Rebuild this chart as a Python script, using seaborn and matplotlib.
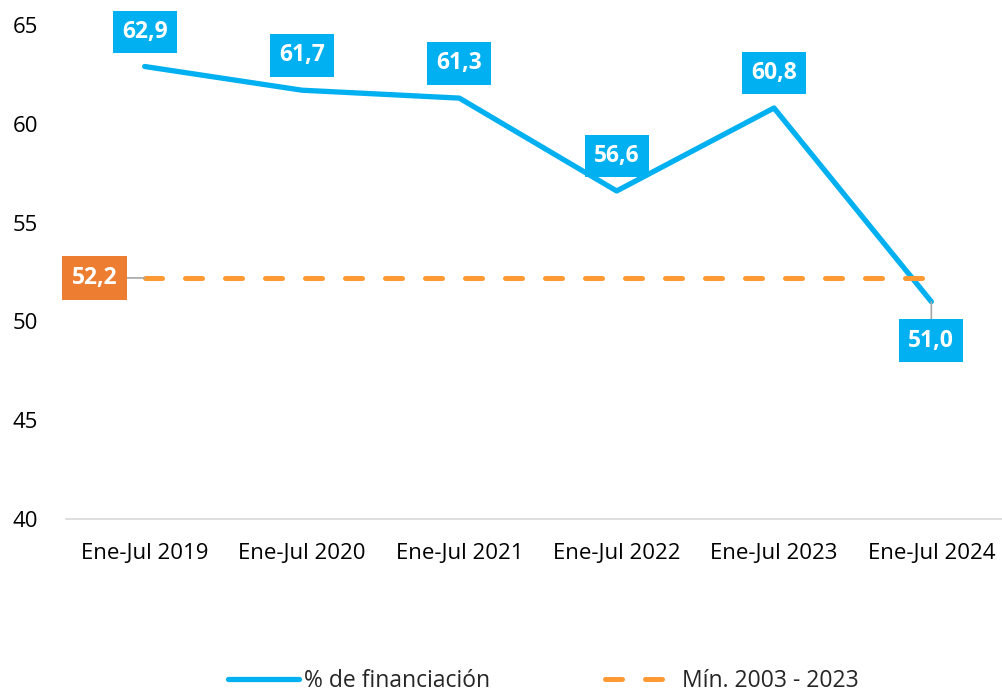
import matplotlib
matplotlib.use("Agg")
import matplotlib.pyplot as plt
import pandas as pd
import seaborn as sns

periodos = ["Ene-Jul 2019", "Ene-Jul 2020", "Ene-Jul 2021",
            "Ene-Jul 2022", "Ene-Jul 2023", "Ene-Jul 2024"]
financiacion = [62.9, 61.7, 61.3, 56.6, 60.8, 51.0]
minimo = 52.2

azul = "#00B0F0"
naranja = "#FF9933"
naranja_caja = "#ED7D31"

sns.set_theme(style="white")
plt.rcParams["font.family"] = ["Open Sans", "DejaVu Sans"]

df = pd.DataFrame({"pos": range(len(periodos)), "periodo": periodos,
                   "fin": financiacion, "min": [minimo] * len(periodos)})

fig = plt.figure(figsize=(10.02, 6.92), dpi=100)
ax = fig.add_axes([66 / 1002, 1 - 519 / 692, 944 / 1002, 494 / 692])

# linea del minimo (naranja, discontinua) y serie principal
sns.lineplot(data=df, x="pos", y="min", ax=ax, color=naranja, lw=3.6,
             dashes=False, label="Mín. 2003 - 2023")
ax.lines[-1].set_dashes([3.4, 4.6])
ax.lines[-1].set_dash_capstyle("round")
ax.lines[-1].set_zorder(3)
sns.lineplot(data=df, x="pos", y="fin", ax=ax, color=azul, lw=3.8,
             label="% de financiación")
ax.lines[-1].set_solid_capstyle("round")
ax.lines[-1].set_zorder(2)

ax.set_xlim(-0.5, len(periodos) - 0.5)
ax.set_ylim(40, 65)
ax.set_yticks([40, 45, 50, 55, 60, 65])
ax.set_xticks(range(len(periodos)))
ax.set_xticklabels(periodos)
ax.tick_params(axis="both", labelsize=16, colors="#000000", length=0)
ax.tick_params(axis="x", pad=17)
ax.tick_params(axis="y", pad=20)
ax.set_xlabel("")
ax.set_ylabel("")
for s in ["left", "right", "top"]:
    ax.spines[s].set_visible(False)
ax.spines["bottom"].set_color("#D9D9D9")
ax.spines["bottom"].set_linewidth(1.2)

# etiquetas de datos
box = dict(boxstyle="square,pad=0.4", fc=azul, ec="none")
for i, v in enumerate(financiacion):
    txt = f"{v:.1f}".replace(".", ",")
    if i == len(financiacion) - 1:
        ax.annotate(txt, (i, v), xytext=(0, -28), textcoords="offset points",
                    ha="center", va="center", color="white", fontsize=16.5,
                    fontweight="bold", bbox=box, annotation_clip=False,
                    arrowprops=dict(arrowstyle="-", color="#A6A6A6", lw=1.2,
                                    shrinkA=0, shrinkB=0))
    else:
        ax.annotate(txt, (i, v), xytext=(0, 25), textcoords="offset points",
                    ha="center", va="center", color="white", fontsize=16.5,
                    fontweight="bold", bbox=box, annotation_clip=False)

ax.annotate(f"{minimo:.1f}".replace(".", ","), (0, minimo), xytext=(-36, 0),
            textcoords="offset points", ha="center", va="center",
            color="white", fontsize=16.5, fontweight="bold",
            bbox=dict(boxstyle="square,pad=0.42", fc=naranja_caja, ec="none"),
            annotation_clip=False,
            arrowprops=dict(arrowstyle="-", color="#A6A6A6", lw=1.2,
                            shrinkA=0, shrinkB=0))

handles, labels = ax.get_legend_handles_labels()
ax.get_legend().remove()
order = [1, 0]
fig.legend([handles[i] for i in order], [labels[i] for i in order],
           loc="center", bbox_to_anchor=(543 / 1002, 1 - 681 / 692), ncol=2,
           frameon=False, fontsize=16.5, handlelength=3.1, handletextpad=0.25,
           columnspacing=5.0)

fig.savefig("out.png", dpi=100)
